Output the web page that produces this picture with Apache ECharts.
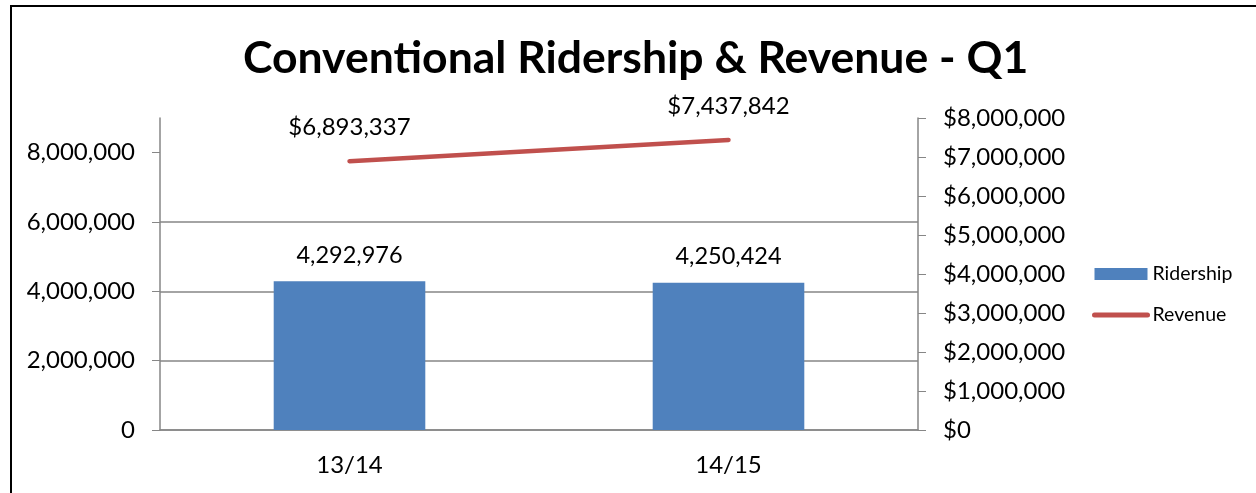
<!DOCTYPE html>
<html>
<head>
<meta charset="utf-8">
<script src="https://cdn.jsdelivr.net/npm/echarts@6/dist/echarts.min.js"></script>
<style>
    html, body { margin: 0; padding: 0; background: #fff; }
    #chartArea { position: absolute; left: 0; top: 0; width: 1256px; height: 493px; }
    #frame { position: absolute; left: 10px; top: 5px; width: 1300px; height: 600px;
             border-left: 2px solid #000; border-top: 2px solid #000; pointer-events: none; }
</style>
</head>
<body>
<div id="chartArea"></div>
<div id="frame"></div>
<script>
var categories = ['13/14', '14/15'];
var ridership = [4292976, 4250424];
var revenue = [6893337, 7437842];
var leftTicks = [0, 2000000, 4000000, 6000000, 8000000];

var fmt = function (v) { return Number(v).toLocaleString('en-US'); };
var gray = '#868686';
var font = 'Lato';

var option = {
    animation: false,
    title: {
        text: 'Conventional Ridership & Revenue - Q1',
        left: 243,
        top: 36,
        padding: 0,
        textStyle: { fontFamily: font, fontWeight: 'bold', fontSize: 44.5, color: '#000' }
    },
    legend: {
        orient: 'vertical',
        left: 1092,
        top: 264,
        padding: 0,
        itemWidth: 53,
        itemHeight: 12,
        itemGap: 21,
        textStyle: { fontFamily: font, fontSize: 19.5, color: '#000' },
        data: [
            { name: 'Ridership', icon: 'rect' },
            { name: 'Revenue', itemStyle: { opacity: 0 }, lineStyle: { width: 5, cap: 'round', color: '#C0504D' } }
        ]
    },
    grid: { left: 160, right: 338, top: 118, bottom: 63 },
    xAxis: {
        type: 'category',
        data: categories,
        axisLine: { lineStyle: { color: gray, width: 1.5 } },
        axisTick: { length: 6, lineStyle: { color: gray } },
        axisLabel: { margin: 23, fontFamily: font, fontSize: 24, color: '#000' }
    },
    yAxis: [
        {
            type: 'value',
            min: 0,
            max: 9000000,
            interval: 2000000,
            axisLine: { show: true, lineStyle: { color: gray, width: 1.5 } },
            axisTick: { show: true, length: 8, customValues: leftTicks, lineStyle: { color: gray } },
            axisLabel: { margin: 25, customValues: leftTicks, fontFamily: font, fontSize: 24, color: '#000', formatter: fmt },
            splitLine: { show: true, showMaxLine: false, lineStyle: { color: gray, width: 1.5 } }
        },
        {
            type: 'value',
            min: 0,
            max: 8000000,
            interval: 1000000,
            position: 'right',
            axisLine: { show: true, lineStyle: { color: gray, width: 1.5 } },
            axisTick: { show: true, length: 8, lineStyle: { color: gray } },
            axisLabel: { margin: 25, fontFamily: font, fontSize: 24, color: '#000',
                formatter: function (v) { return '$' + fmt(v); } },
            splitLine: { show: false }
        }
    ],
    series: [
        {
            name: 'Ridership',
            type: 'bar',
            yAxisIndex: 0,
            barWidth: '40%',
            data: ridership,
            itemStyle: { color: '#4F81BD' },
            label: { show: true, position: 'top', distance: 14, fontFamily: font, fontSize: 23.5, color: '#000', formatter: function (p) { return fmt(p.value); } }
        },
        {
            name: 'Revenue',
            type: 'line',
            yAxisIndex: 1,
            data: revenue,
            symbol: 'circle',
            symbolSize: 1,
            showSymbol: true,
            lineStyle: { color: '#C0504D', width: 4.5, cap: 'round' },
            itemStyle: { color: '#C0504D' },
            label: { show: true, position: 'top', distance: 21, fontFamily: font, fontSize: 24, color: '#000', formatter: function (p) { return '$' + fmt(p.value); } }
        }
    ]
};

var myChart = echarts.init(document.getElementById('chartArea'));
myChart.setOption(option);
</script>
</body>
</html>
